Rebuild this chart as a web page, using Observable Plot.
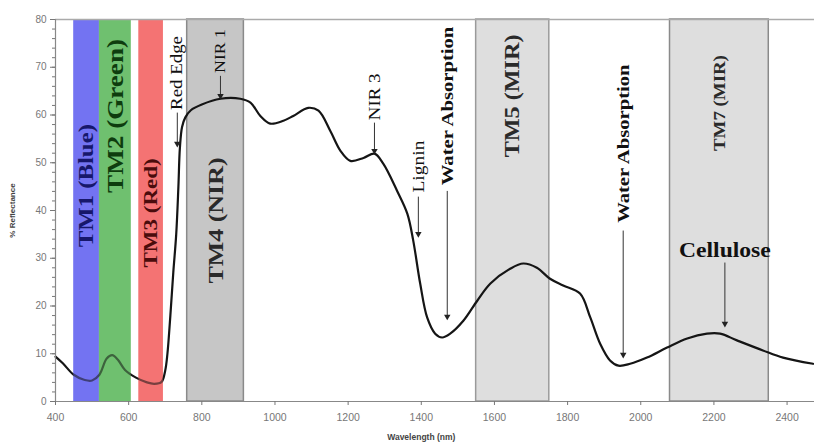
<!DOCTYPE html>
<html><head><meta charset="utf-8">
<script src="https://cdn.jsdelivr.net/npm/d3@7"></script>
<script src="https://cdn.jsdelivr.net/npm/@observablehq/plot@0.6"></script>
<style>body{margin:0;background:#fff}</style>
</head><body><div id="chart"></div>
<script>
// Vegetation reflectance spectrum (% reflectance vs wavelength, nm)
const wavelength = [400,420,450,480,500,520,540,555,570,590,620,650,670,690,700,706,714,722,730,736,740,746,755,770,800,851,905,933,960,987,1023,1050,1091,1119,1151,1179,1206,1242,1272,1296,1334,1362,1378,1397,1416,1438,1457,1479,1515,1553,1589,1643,1679,1716,1752,1788,1834,1862,1889,1916,1939,1971,2017,2072,2127,2181,2217,2263,2334,2389,2471];
const reflectance = [9.4,8.0,5.6,4.5,4.4,5.6,9.0,9.7,8.8,6.6,5.0,4.0,3.7,4.1,6.5,10,18,27,35,45,53,57.5,59.5,61,62.2,63.4,63.4,62.6,59.8,58.2,58.8,59.8,61.5,60.9,56.7,52.5,50.4,51.0,51.9,49.8,44.1,39.3,33.7,24.7,17.6,14.2,13.4,14.2,16.9,21.1,24.7,27.8,28.9,28.0,25.7,24.3,22.6,17.6,12.1,8.6,7.5,7.9,9.2,11.3,13.2,14.2,14.2,12.8,10.7,9.2,7.9];

// Landsat TM bands
const bandNames = ["TM1 (Blue)", "TM2 (Green)", "TM3 (Red)", "TM4 (NIR)", "TM5 (MIR)", "TM7 (MIR)"];
const bandStart = [450, 520, 628, 760, 1550, 2080];
const bandEnd   = [520, 607, 695, 915, 1750, 2350];
const bandLabelAt = [45.2, 59.8, 39.5, 37.9, 64, 62.5];

// Annotations
const annText = ["Red Edge", "NIR 1", "NIR 3", "Lignin", "Water Absorption", "Water Absorption", "Cellulose"];
const annX = [733, 851, 1272, 1392, 1471, 1952, 2230];
const annLabelAt = [68.8, 73.4, 63.8, 49.2, 61.9, 54, 31.6];
const annFrom = [60.5, 68.2, 58.4, 42.9, 44.1, 35.8, 29.1];
const annTo = [54, 64.0, 52.5, 35.1, 17.8, 9.8, 16.3];

const xTicks = d3.range(400, 2401, 200);
const yTicks = d3.range(0, 81, 10);

const curve = wavelength.map((w, i) => ({w, r: reflectance[i]}));
const bandFill = ["#7474f2", "#6fc06f", "#f57474", "#c6c6c6", "#dedede", "#dedede"];
const bandStroke = ["none", "none", "none", "#8a8a8a", "#9a9a9a", "#8a8a8a"];
const bands = bandNames.map((name, i) => ({name, x1: bandStart[i], x2: bandEnd[i], y1: 0, y2: 80,
  fill: bandFill[i], stroke: bandStroke[i], xm: (bandStart[i] + bandEnd[i]) / 2, ym: bandLabelAt[i]}));
const anns = annText.map((t, i) => ({t, x: annX[i], y: annLabelAt[i], y1: annFrom[i], y2: annTo[i]}));

const serif = "Liberation Serif, Times New Roman, serif";
function bandLabel(i, size, color, weight = "bold") {
  return Plot.text([bands[i]], {x: "xm", y: "ym", text: "name", rotate: -90, fontSize: size,
    fontFamily: serif, fontWeight: weight, fill: color, textAnchor: "middle", lineAnchor: "middle", ariaDescription: "stretch"});
}
function annLabel(i, size, weight, rotate = -90) {
  return Plot.text([anns[i]], {x: "x", y: "y", text: "t", rotate, fontSize: size,
    fontFamily: serif, fontWeight: weight, fill: "#111", textAnchor: "middle", lineAnchor: "middle", ariaDescription: "stretch"});
}

const plot = Plot.plot({
  width: 814, height: 443,
  marginLeft: 55, marginRight: 0, marginTop: 19, marginBottom: 42,
  x: {domain: [400, 2475]},
  y: {domain: [0, 80]},
  style: {fontFamily: "Liberation Sans, Arial, sans-serif", background: "#fff"},
  marks: [
    Plot.rect(bands, {x1: "x1", x2: "x2", y1: "y1", y2: "y2", fill: "fill", stroke: "stroke", strokeWidth: 1.5}),
    Plot.line(curve, {x: "w", y: "r", stroke: "#151515", strokeWidth: 2.2, curve: "catmull-rom"}),
    Plot.rect(bands.slice(0, 3), {x1: "x1", x2: "x2", y1: "y1", y2: "y2", fill: "fill", fillOpacity: 0.45}),
    Plot.ruleY([80], {stroke: "#aaa", strokeWidth: 1.5}),
    Plot.ruleY([0], {stroke: "#888", strokeWidth: 1.2}),
    Plot.ruleX([400], {stroke: "#888", strokeWidth: 1.2}),
    Plot.axisY(d3.range(0, 81, 2), {tickSize: 3, tickFormat: () => "", stroke: "#777", label: null}),
    Plot.axisY(yTicks, {tickSize: 5, tickPadding: 4, fontSize: 10, fill: "#777", stroke: "#777", label: null, tickFormat: d => String(d)}),
    Plot.axisX(xTicks, {tickSize: 4, tickPadding: 8, fontSize: 10.5, fill: "#777", stroke: "#777", label: null, tickFormat: d => String(d)}),
    Plot.text(["% Reflectance"], {x: 400, y: 40, dx: -43, rotate: -90, fontSize: 8, fill: "#444", fontWeight: "bold"}),
    Plot.text(["Wavelength (nm)"], {x: 1400, y: 0, dy: 36, fontSize: 8.5, fill: "#444", fontWeight: "bold"}),
    bandLabel(0, 21, "#17176b"),
    bandLabel(1, 23, "#0e3c0e"),
    bandLabel(2, 19.5, "#4b0c0c"),
    bandLabel(3, 22, "#2a2a2a"),
    bandLabel(4, 20.5, "#2a2a2a"),
    bandLabel(5, 16, "#2a2a2a"),
    Plot.link(anns, {x1: "x", x2: "x", y1: "y1", y2: "y2", stroke: "#333", strokeWidth: 1}),
    Plot.dot(anns, {x: "x", y: "y2", symbol: "triangle", r: 2.4, rotate: 180, fill: "#222", stroke: "none"}),
    annLabel(0, 16, "normal"),
    annLabel(1, 15, "normal"),
    annLabel(2, 16, "normal"),
    annLabel(3, 16.5, "normal"),
    annLabel(4, 17.5, "bold"),
    annLabel(5, 17.5, "bold"),
    annLabel(6, 20, "bold", 0)
  ]
});
plot.querySelectorAll('g[aria-description="stretch"] text').forEach(t => {
  const tr = t.getAttribute("transform") || "";
  t.setAttribute("transform", tr + " scale(1.18,1)");
});
document.getElementById("chart").appendChild(plot);
</script>
</body></html>
